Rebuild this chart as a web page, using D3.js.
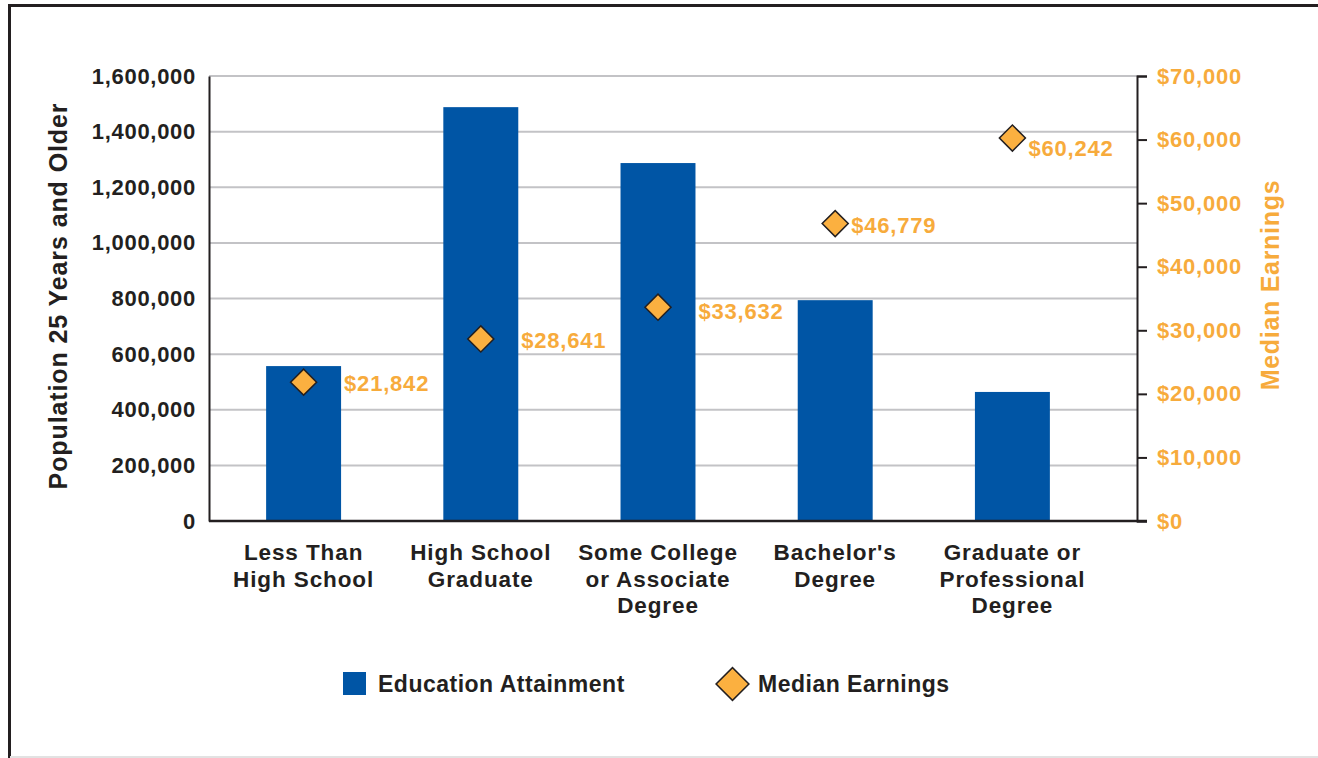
<!DOCTYPE html>
<html><head><meta charset="utf-8">
<script src="https://cdn.jsdelivr.net/npm/d3@7"></script>
<style>
html,body{margin:0;padding:0;background:#fff;}
text{font-family:"Liberation Sans",Arial,sans-serif;font-weight:bold;}
</style></head>
<body>
<svg id="chart" width="1318" height="758"></svg>
<script>
const categories = [
  ["Less Than", "High School"],
  ["High School", "Graduate"],
  ["Some College", "or Associate", "Degree"],
  ["Bachelor's", "Degree"],
  ["Graduate or", "Professional", "Degree"]
];
const population = [557000, 1488000, 1287000, 794000, 464000];
const earnings = [21842, 28641, 33632, 46779, 60242];
const leftTicks = [0, 200000, 400000, 600000, 800000, 1000000, 1200000, 1400000, 1600000];
const rightTicks = [0, 10000, 20000, 30000, 40000, 50000, 60000, 70000];
const seriesNames = ["Education Attainment", "Median Earnings"];

const BLUE = "#0055a5", ORANGE = "#f7ab3c", DIAMOND = "#fbb040", DARK = "#231f20", GRID = "#c3c3c6";
const svg = d3.select("#chart");
const m = {l: 209, r: 1137, t: 76, b: 521};

// frame
svg.append("line").attr("x1",9.5).attr("x2",9.5).attr("y1",5).attr("y2",758).attr("stroke",DARK).attr("stroke-width",3);
svg.append("line").attr("x1",8).attr("x2",1318).attr("y1",5.5).attr("y2",5.5).attr("stroke",DARK).attr("stroke-width",3);
svg.append("line").attr("x1",10).attr("x2",1318).attr("y1",757).attr("y2",757).attr("stroke","#e2e2e2").attr("stroke-width",2);

const x = d3.scaleBand().domain(d3.range(categories.length)).range([215, 1101]).paddingInner(0.577).paddingOuter(0.2885);
const yL = d3.scaleLinear().domain([0,1600000]).range([m.b, m.t]);
const yR = d3.scaleLinear().domain([0,70000]).range([m.b, m.t]);

// gridlines
svg.append("g").selectAll("line").data(leftTicks.slice(1)).join("line")
  .attr("x1", m.l).attr("x2", m.r).attr("y1", d=>yL(d)).attr("y2", d=>yL(d))
  .attr("stroke", GRID).attr("stroke-width", 2);

// bars
svg.append("g").selectAll("rect").data(population).join("rect")
  .attr("x",(d,i)=>x(i)).attr("width",x.bandwidth())
  .attr("y",d=>yL(d)).attr("height",d=>yL(0)-yL(d)).attr("fill",BLUE);

// left axis
const fmt = d3.format(",");
const la = svg.append("g").attr("transform",`translate(${m.l},0)`)
  .call(d3.axisLeft(yL).tickValues(leftTicks).tickFormat(fmt).tickSize(0).tickPadding(13));
la.select(".domain").attr("stroke",DARK).attr("stroke-width",2);
la.selectAll("text").attr("font-size",22).attr("fill",DARK).style("letter-spacing","0.7px")
  .style("font-family","'Liberation Sans',Arial,sans-serif").style("font-weight","bold");

// right axis
const ra = svg.append("g").attr("transform",`translate(${m.r},0)`)
  .call(d3.axisRight(yR).tickValues(rightTicks).tickFormat(d=>"$"+fmt(d)).tickSize(10).tickPadding(10));
ra.select(".domain").attr("stroke",DARK).attr("stroke-width",2);
ra.selectAll(".tick line").attr("stroke",DARK).attr("stroke-width",2);
ra.selectAll("text").attr("font-size",22).attr("fill",ORANGE).style("letter-spacing","0.8px")
  .style("font-family","'Liberation Sans',Arial,sans-serif").style("font-weight","bold");

// baseline
svg.append("line").attr("x1",m.l).attr("x2",m.r+10).attr("y1",yL(0)).attr("y2",yL(0)).attr("stroke",DARK).attr("stroke-width",2.5);

// category labels
const cl = svg.append("g").selectAll("text").data(categories).join("text")
  .attr("x",(d,i)=>x(i)+x.bandwidth()/2).attr("y",560)
  .attr("text-anchor","middle").attr("font-size",22.5).attr("fill",DARK).style("letter-spacing","0.9px");
cl.selectAll("tspan").data(d=>d).join("tspan")
  .attr("x",function(){return d3.select(this.parentNode).attr("x");})
  .attr("dy",(d,i)=>i===0?0:26.5).text(d=>d);

// diamonds
const diamond = d3.symbol().type(d3.symbolSquare).size(340);
svg.append("g").selectAll("path").data(earnings).join("path")
  .attr("d", diamond)
  .attr("transform",(d,i)=>`translate(${x(i)+x.bandwidth()/2},${yR(d)}) rotate(45)`)
  .attr("fill",DIAMOND).attr("stroke",DARK).attr("stroke-width",1.5);

// earnings labels (right of the bar when the marker sits on it, else right of the marker)
svg.append("g").selectAll("text").data(earnings).join("text")
  .attr("x",(d,i)=> yR(d) > yL(population[i]) ? x(i)+x.bandwidth()+3 : x(i)+x.bandwidth()/2+16)
  .attr("y",(d,i)=>yR(d) + (yR(d) < yR(55000) ? 18 : (i===2 ? 12 : 9)))
  .attr("font-size",22).attr("fill",ORANGE).style("letter-spacing","0.8px")
  .text(d=>"$"+fmt(d));

// axis titles
svg.append("text").attr("transform","translate(67,296) rotate(-90)").attr("text-anchor","middle")
  .attr("font-size",25).attr("fill",DARK).style("letter-spacing","0.9px").text("Population 25 Years and Older");
svg.append("text").attr("transform","translate(1279,285) rotate(-90)").attr("text-anchor","middle")
  .attr("font-size",25).attr("fill",ORANGE).style("letter-spacing","0.7px").text("Median Earnings");

// legend
const lg = svg.append("g");
lg.append("rect").attr("x",343).attr("y",672).attr("width",23).attr("height",23).attr("fill",BLUE);
lg.append("text").attr("x",378).attr("y",692).attr("font-size",23).attr("fill",DARK).style("letter-spacing","0.5px").text(seriesNames[0]);
lg.append("path").attr("d", d3.symbol().type(d3.symbolSquare).size(540))
  .attr("transform","translate(732.5,684) rotate(45)").attr("fill",DIAMOND).attr("stroke",DARK).attr("stroke-width",1.5);
lg.append("text").attr("x",758).attr("y",692).attr("font-size",23).attr("fill",DARK).style("letter-spacing","0.5px").text(seriesNames[1]);
</script>
</body></html>
